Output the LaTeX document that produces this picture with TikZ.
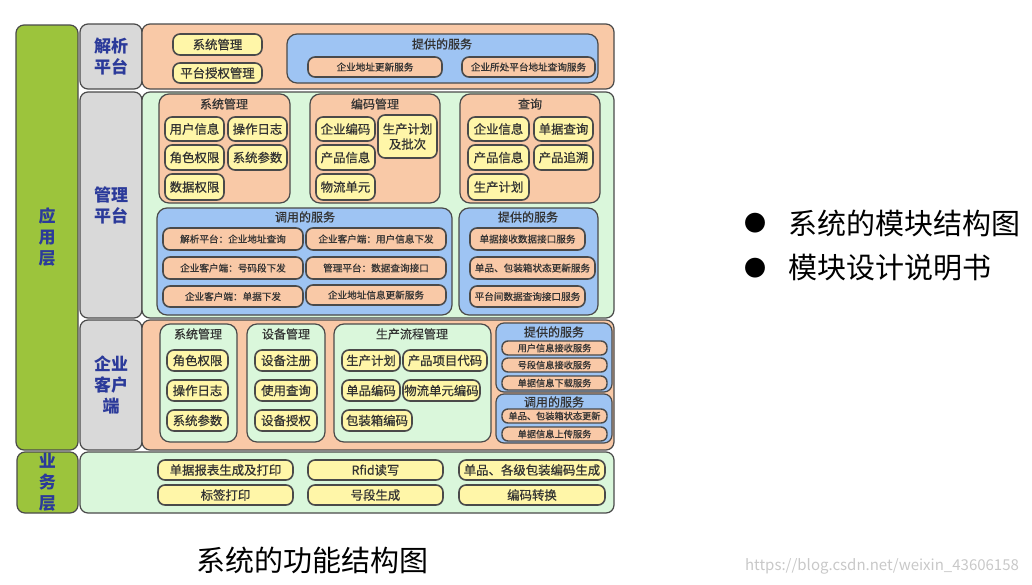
\documentclass[tikz,border=0pt]{standalone}
\usepackage{fontspec}
\setmainfont{Noto Sans CJK SC}
\newfontfamily\boxfont{Noto Sans CJK SC}[FakeBold=0.7]

\definecolor{appgreen}{HTML}{9CC43C}
\definecolor{labgray}{HTML}{D9D9D9}
\definecolor{peach}{HTML}{F9C9A7}
\definecolor{mint}{HTML}{DAF7DB}
\definecolor{svcblue}{HTML}{9EC4F3}
\definecolor{pillyellow}{HTML}{FFF6A8}
\definecolor{edge}{HTML}{4A4A4A}
\definecolor{navy}{HTML}{2B3A9A}
\definecolor{mark}{HTML}{C8C8C8}

% box from its corners, in pixels of the layout
\tikzset{span/.style n args={4}{minimum width={(#3-#1)*0.5pt}, minimum height={(#4-#2)*0.5pt}, at={({(#1+#3)/2},{(#2+#4)/2})}}}

\begin{document}
\begin{tikzpicture}[x=0.5pt,y=-0.5pt]
		\tikzstyle{blk}=[draw=edge,line width=0.6pt,rounded corners=4pt,inner sep=0pt]
		\tikzstyle{layer}=[blk,fill=appgreen,font=\fontsize{8.5}{10.5}\selectfont\bfseries,text=navy,align=center]
		\tikzstyle{lab}=[blk,fill=labgray,font=\fontsize{8.5}{10.5}\selectfont\bfseries,text=navy,align=center]
		\tikzstyle{group}=[blk,rounded corners=5pt]
		\tikzstyle{title}=[font=\boxfont\fontsize{6}{7}\selectfont,text=black!80]
		\tikzstyle{pill}=[draw=edge,line width=0.8pt,rounded corners=3.5pt,inner sep=0pt,fill=pillyellow,font=\boxfont\fontsize{6.2}{7.6}\selectfont,text=black!80]
		\tikzstyle{svc}=[pill,fill=peach,font=\boxfont\fontsize{4.8}{6}\selectfont]
		\tikzstyle{svcs}=[pill,fill=peach,line width=0.7pt,rounded corners=3pt,font=\boxfont\fontsize{4.6}{5.6}\selectfont]
		
		\useasboundingbox (0,0) rectangle (1032,584);
		
		% Layers on the left
		\node[layer, span={16}{25}{78}{450}] (app) {应\\用\\层};
		\node[layer, span={17}{452}{78}{513}] (biz) {业\\务\\层};
		
		% Platform labels and their backgrounds
		\node[lab, span={80}{24}{142}{89}] (jx-lab) {解析\\平台};
		\node[lab, span={80}{92}{142}{318}] (gl-lab) {管理\\平台};
		\node[lab, span={80}{320}{142}{450}] (qy-lab) {企业\\客户\\端};
		\node[blk, fill=peach, span={142}{24}{614}{89}] (jx-bg) {};
		\node[blk, fill=mint, span={142}{92}{614}{318}] (gl-bg) {};
		\node[blk, fill=peach, span={142}{320}{614}{450}] (qy-bg) {};
		\node[blk, fill=mint, span={80}{452}{614}{513}] (biz-bg) {};
		
		% Analysis platform
		\node[pill, span={173}{34}{262}{55}] (jx-sys) {系统管理};
		\node[pill, span={173}{63}{262}{83}] (jx-auth) {平台授权管理};
		\node[group, fill=svcblue, span={287}{34}{598}{83}] (jx-prov) {};
		\node[title] (jx-prov-t) at (442,44) {提供的服务};
		\node[svc, span={308}{57}{442}{77}] (jx-s1) {企业地址更新服务};
		\node[svc, span={462}{57}{595}{77}] (jx-s2) {企业所处平台地址查询服务};
		
		% Management platform
		\node[group, fill=peach, span={159}{94}{290}{203}] (gl-sys) {};
		\node[title] (gl-sys-t) at (224,104) {系统管理};
		\node[group, fill=peach, span={310}{94}{440}{203}] (gl-code) {};
		\node[title] (gl-code-t) at (375,104) {编码管理};
		\node[group, fill=peach, span={460}{94}{600}{203}] (gl-qry) {};
		\node[title] (gl-qry-t) at (530,104) {查询};
		\foreach \name/\xa/\ya/\xb/\yb/\txt in {
			gl-u/165/117/224/141/用户信息, gl-log/228/117/287/141/操作日志,
			gl-role/165/145/224/170/角色权限, gl-par/228/145/287/170/系统参数,
			gl-data/165/174/224/200/数据权限,
			gl-ent/316/117/375/141/企业编码, gl-prod/316/145/375/170/产品信息,
			gl-log2/316/174/375/200/物流单元,
			gl-qe/468/117/529/141/企业信息, gl-qd/534/117/593/141/单据查询,
			gl-qp/468/145/529/170/产品信息, gl-qt/534/145/593/170/产品追溯,
			gl-qs/468/174/529/200/生产计划}
			\node[pill, span={\xa}{\ya}{\xb}{\yb}] (\name) {\txt};
		\node[pill, align=center, span={378}{115}{437}{158}] (gl-plan) {生产计划\\及批次};
		
		\node[group, fill=svcblue, span={157}{208}{452}{315}] (gl-call) {};
		\node[title] (gl-call-t) at (305,217) {调用的服务};
		\node[group, fill=svcblue, span={459}{208}{598}{315}] (gl-prov) {};
		\node[title] (gl-prov-t) at (528,217) {提供的服务};
		\foreach \name/\xa/\ya/\xb/\yb/\txt in {
			gl-c1/163/228/303/250/解析平台：企业地址查询, gl-c2/306/228/446/250/企业客户端：用户信息下发,
			gl-c3/163/257/303/279/企业客户端：号码段下发, gl-c4/306/257/446/279/管理平台：数据查询接口,
			gl-c5/163/286/303/307/企业客户端：单据下发, gl-c6/306/285/446/305/企业地址信息更新服务,
			gl-p1/470/228/585/250/单据接收数据接口服务, gl-p2/470/257/595/279/单品、包装箱状态更新服务,
			gl-p3/470/286/585/307/平台间数据查询接口服务}
			\node[svc, span={\xa}{\ya}{\xb}{\yb}] (\name) {\txt};
		
		% Enterprise client
		\node[group, fill=mint, span={160}{324}{237}{442}] (qy-sys) {};
		\node[title] (qy-sys-t) at (198,334) {系统管理};
		\node[group, fill=mint, span={247}{324}{325}{442}] (qy-dev) {};
		\node[title] (qy-dev-t) at (286,334) {设备管理};
		\node[group, fill=mint, span={334}{324}{491}{442}] (qy-flow) {};
		\node[title] (qy-flow-t) at (412,334) {生产流程管理};
		\foreach \name/\xa/\ya/\xb/\yb/\txt in {
			qy-role/167/350/228/371/角色权限, qy-log/167/380/228/401/操作日志,
			qy-par/167/410/228/431/系统参数,
			qy-reg/255/350/317/371/设备注册, qy-use/255/380/317/401/使用查询,
			qy-auth/255/410/317/431/设备授权,
			qy-plan/342/350/400/371/生产计划, qy-item/403/350/487/371/产品项目代码,
			qy-unit/342/380/400/401/单品编码, qy-lu/403/380/480/401/物流单元编码,
			qy-box/342/410/412/431/包装箱编码}
			\node[pill, span={\xa}{\ya}{\xb}{\yb}] (\name) {\txt};
		
		\node[group, fill=svcblue, rounded corners=4pt, span={496}{323}{612}{392}] (qy-prov) {};
		\node[title] (qy-prov-t) at (554,332) {提供的服务};
		\node[group, fill=svcblue, rounded corners=4pt, span={496}{394}{612}{443}] (qy-call) {};
		\node[title] (qy-call-t) at (554,402) {调用的服务};
		\foreach \name/\xa/\ya/\xb/\yb/\txt in {
			qy-p1/502/341/607/355/用户信息接收服务, qy-p2/502/358/607/372/号段信息接收服务,
			qy-p3/502/376/607/390/单据信息下载服务,
			qy-c1/502/409/607/423/单品、包装箱状态更新, qy-c2/502/427/607/441/单据信息上传服务}
			\node[svcs, span={\xa}{\ya}{\xb}{\yb}] (\name) {\txt};
		
		% Business layer
		\foreach \name/\xa/\ya/\xb/\yb/\txt in {
			biz-rep/158/460/293/480/单据报表生成及打印, biz-rfid/308/460/443/480/Rfid读写,
			biz-gen/459/460/605/480/单品、各级包装编码生成,
			biz-tag/158/485/293/505/标签打印, biz-seg/308/485/443/505/号段生成,
			biz-conv/459/485/605/505/编码转换}
			\node[pill, span={\xa}{\ya}{\xb}{\yb}] (\name) {\txt};
		
		% Caption and notes
		\node[font=\fontsize{14.5}{16}\selectfont] (cap) at (312,560) {系统的功能结构图};
		\node[font=\fontsize{11}{13}\selectfont] (b1) at (755,223) {●};
		\node[font=\fontsize{14.5}{16}\selectfont, anchor=west] (n1) at (781,223) {系统的模块结构图};
		\node[font=\fontsize{11}{13}\selectfont] (b2) at (755,268) {●};
		\node[font=\fontsize{14.5}{16}\selectfont, anchor=west] (n2) at (781,268) {模块设计说明书};
		\node[font=\fontsize{7.5}{9}\selectfont, text=mark, anchor=east] (wm) at (1026,566) {https://blog.csdn.net/weixin\_43606158};
	\end{tikzpicture}
\end{document}
